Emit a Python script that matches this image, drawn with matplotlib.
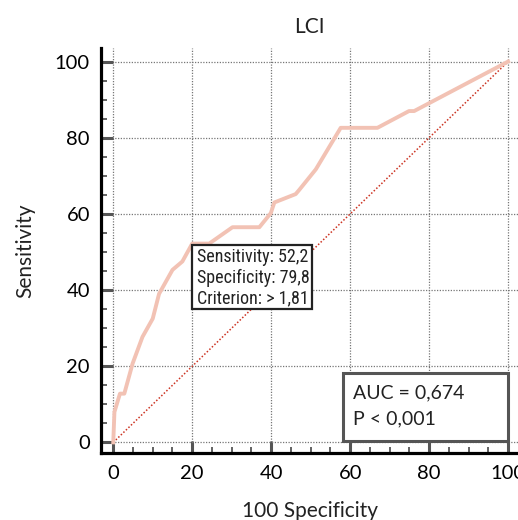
import matplotlib
matplotlib.use('Agg')
import matplotlib.pyplot as plt
from matplotlib.patches import Rectangle
from matplotlib.ticker import MultipleLocator

plt.rcParams['font.family'] = ['Lato', 'DejaVu Sans']
plt.rcParams['font.size'] = 14

# ROC curve points (100-Specificity, Sensitivity)
fpr = [0, 0.3, 1.7, 2.8, 4.9, 7.4, 10, 11.6, 15, 17.5, 20, 24.3, 30.2, 37,
       39.9, 40.8, 46.2, 47.1, 51.3, 57.6, 66.9, 74.9, 76.2, 100]
tpr = [0, 8, 12.8, 12.8, 20.7, 27.7, 32.5, 39, 45.3, 47.5, 52.2, 52.2, 56.5, 56.5,
       60.2, 63, 65.2, 66.3, 71.7, 82.6, 82.6, 87, 87, 100]

crit_lines = ['Sensitivity: 52,2', 'Specificity: 79,8', 'Criterion: > 1,81']
auc_lines = ['AUC = 0,674', 'P < 0,001']
ticks = [0, 20, 40, 60, 80, 100]

fig = plt.figure(figsize=(5.18, 5.20), dpi=100)
ax = fig.add_axes([0.195, 0.128, 0.805, 0.78])

ax.set_xlim(-3.1, 102.5)
ax.set_ylim(-2.9, 103.6)
ax.set_xticks(ticks)
ax.set_yticks(ticks)
ax.xaxis.set_minor_locator(MultipleLocator(5))
ax.yaxis.set_minor_locator(MultipleLocator(5))

ax.grid(True, which='major', color='#777777', linestyle=(0, (1, 1.2)), linewidth=0.9)
ax.set_axisbelow(True)

ax.plot([0, 100], [0, 100], color='#cc3322', linestyle=(0, (1, 1.3)), linewidth=1.1, zorder=2)
ax.plot(fpr, tpr, color='#f2c2b4', linewidth=2.8, solid_joinstyle='round', zorder=3)

for s in ['top', 'right']:
    ax.spines[s].set_visible(False)
for s in ['left', 'bottom']:
    ax.spines[s].set_linewidth(2.3)
    ax.spines[s].set_color('black')

ax.tick_params(which='major', direction='in', length=8.5, width=2.2, color='#555555', pad=8, labelsize=14.5)
ax.tick_params(which='minor', direction='in', length=4.5, width=1.3, color='#555555')

ax.set_title('LCI', fontsize=15, pad=11, color='#222222')
ax.set_ylabel('Sensitivity', fontsize=15, labelpad=14, color='#222222')
ax.set_xlabel('100 Specificity', fontsize=15, labelpad=14, color='#222222')

# criterion box
ax.add_patch(Rectangle((20, 35.0), 30.3, 16.8, facecolor='white', edgecolor='#222222',
                       linewidth=1.6, zorder=4))
for txt, yy in zip(crit_lines, [48.8, 43.2, 37.8]):
    ax.text(21.1, yy, txt, fontsize=13, va='center', ha='left', zorder=5, color='#222222',
            family=['Liberation Sans Narrow', 'Roboto Condensed', 'DejaVu Sans'])

# AUC box
ax.add_patch(Rectangle((58.1, 0.4), 41.9, 17.9, facecolor='white', edgecolor='#555555',
                       linewidth=2.2, zorder=4))
for txt, yy in zip(auc_lines, [13.1, 6.1]):
    ax.text(60.8, yy, txt, fontsize=14, va='center', ha='left', zorder=5, color='#222222')

fig.savefig('out.png', dpi=100)
